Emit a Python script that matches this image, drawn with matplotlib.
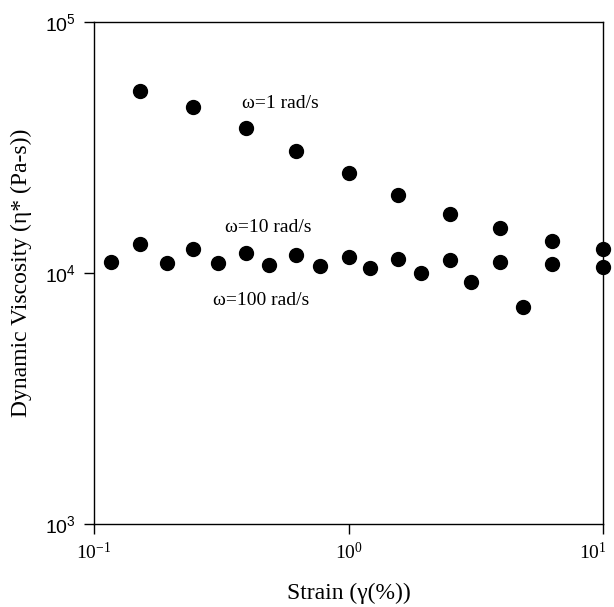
import matplotlib
matplotlib.use("Agg")
import matplotlib.pyplot as plt
import matplotlib.transforms as mtransforms
from matplotlib.ticker import FixedLocator, NullLocator

# Data (strain %, dynamic viscosity Pa-s)
strain_w1 = [0.152, 0.245, 0.395, 0.62, 1.0, 1.57, 2.5, 3.95, 6.3, 10.0]
visc_w1 = [53200, 46000, 37700, 30700, 24950, 20500, 17200, 15150, 13450, 12430]

strain_w10 = [0.152, 0.245, 0.395, 0.62, 1.0, 1.57, 2.5, 3.95, 6.3, 10.0]
visc_w10 = [13010, 12460, 12050, 11760, 11550, 11340, 11240, 11060, 10890, 10600]

strain_w100 = [0.117, 0.193, 0.308, 0.488, 0.771, 1.22, 1.92, 3.03, 4.83]
visc_w100 = [11060, 10960, 10930, 10790, 10660, 10440, 10030, 9230, 7340]

x_ticks = [0.1, 1, 10]
x_ticklabels = [r"$\mathregular{10^{-1}}$", r"$\mathregular{10^{0}}$", r"$\mathregular{10^{1}}$"]
y_ticks = [1e3, 1e4, 1e5]
y_ticklabels = [r"$\mathregular{10^{3}}$", r"$\mathregular{10^{4}}$", r"$\mathregular{10^{5}}$"]

serif = "Liberation Serif"
sans = "Liberation Sans"

fig = plt.figure(figsize=(6.14, 6.07), dpi=100)
ax = fig.add_axes([94/614, 1 - 524/607, 509/614, 502/607])

for xs, ys in [(strain_w1, visc_w1), (strain_w10, visc_w10), (strain_w100, visc_w100)]:
    ax.plot(xs, ys, linestyle="none", marker="o", markersize=10,
            color="black", clip_on=False, zorder=3)

ax.set_xscale("log")
ax.set_yscale("log")
ax.set_xlim(0.1, 10)
ax.set_ylim(1e3, 1e5)

ax.xaxis.set_major_locator(FixedLocator(x_ticks))
ax.set_xticklabels(x_ticklabels, fontfamily=serif, fontsize=14)
ax.yaxis.set_major_locator(FixedLocator(y_ticks))
ax.set_yticklabels(y_ticklabels, fontfamily=sans, fontsize=14)
ax.xaxis.set_minor_locator(NullLocator())
ax.yaxis.set_minor_locator(NullLocator())

ax.tick_params(axis="both", which="major", direction="out", length=7,
               width=1, color="black", pad=6)

# keep the right-most x tick label inside the figure
last = ax.get_xticklabels()[-1]
last.set_transform(last.get_transform() +
                   mtransforms.ScaledTranslation(-7/72, 0, fig.dpi_scale_trans))

for s in ax.spines.values():
    s.set_linewidth(1.0)
    s.set_color("black")

ax.set_xlabel("Strain (\u03b3(%))", fontfamily=serif, fontsize=17)
ax.xaxis.set_label_coords(0.5, -0.118)
ax.set_ylabel("Dynamic Viscosity (\u03b7* (Pa-s))", fontfamily=serif, fontsize=17)
ax.yaxis.set_label_coords(-0.142, 0.5)
ax.yaxis.label.set_verticalalignment("center")

ax.text(0.290, 0.837, "\u03c9=1 rad/s", transform=ax.transAxes,
        fontfamily=serif, fontsize=14, ha="left", va="center")
ax.text(0.257, 0.590, "\u03c9=10 rad/s", transform=ax.transAxes,
        fontfamily=serif, fontsize=14, ha="left", va="center")
ax.text(0.234, 0.445, "\u03c9=100 rad/s", transform=ax.transAxes,
        fontfamily=serif, fontsize=14, ha="left", va="center")

fig.savefig("out.png", dpi=100)
